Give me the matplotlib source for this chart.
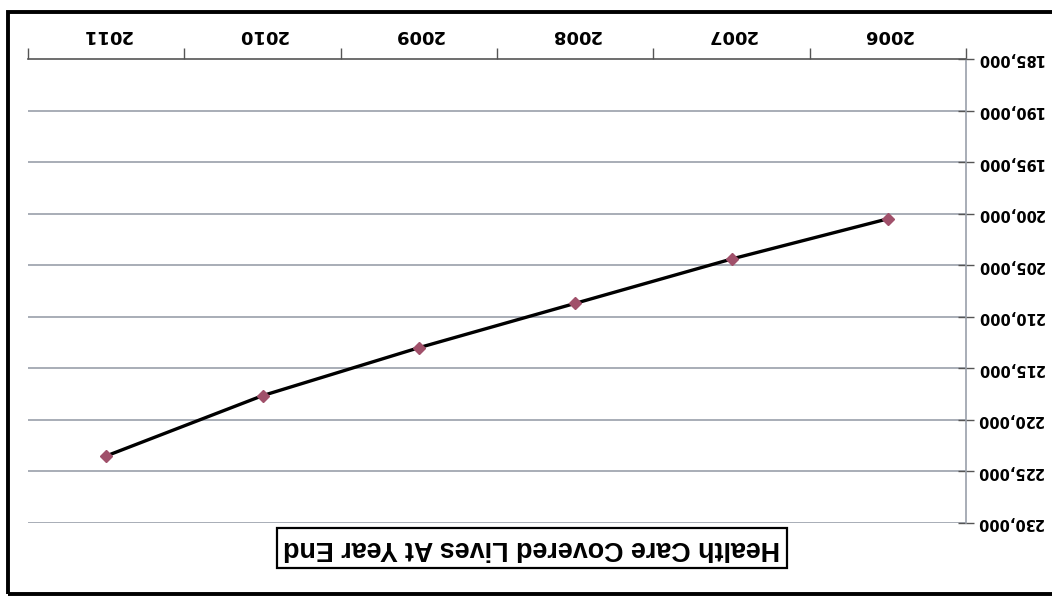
import matplotlib
matplotlib.use("Agg")
import matplotlib.pyplot as plt
from matplotlib.ticker import FixedLocator, FuncFormatter, NullFormatter
from matplotlib.patches import Rectangle

years = ["2006", "2007", "2008", "2009", "2010", "2011"]
covered_lives = [200500, 204400, 208700, 213000, 217650, 223500]
y_ticks = [185000, 190000, 195000, 200000, 205000, 210000, 215000, 220000, 225000, 230000]
title = "Health Care Covered Lives At Year End"

W, H = 1052, 597
fig = plt.figure(figsize=(W / 100, H / 100), dpi=100)
fig.patch.set_facecolor("white")

# axes rectangle in pixels (left, top, right, bottom)
L, T, R, B = 28, 59, 966, 523
ax = fig.add_axes([L / W, 1 - B / H, (R - L) / W, (B - T) / H])

x = list(range(len(years)))
ax.plot(x, covered_lives, color="black", lw=2.4, zorder=3)
ax.plot(x, covered_lives, ls="none", marker="D", ms=6.5, color="#a0506a",
        markeredgecolor="#a0506a", zorder=4)

# the whole chart is turned upside down
ax.set_xlim(len(years) - 0.5, -0.5)
ax.set_ylim(y_ticks[-1], y_ticks[0])

ax.yaxis.tick_right()
ax.yaxis.set_major_locator(FixedLocator(y_ticks))
ax.yaxis.set_major_formatter(FuncFormatter(lambda v, p: f"{int(v):,}"))
ax.tick_params(axis="y", direction="inout", length=11, width=1, color="#555555",
               pad=2, labelsize=10.5, labelrotation=180)
for lab in ax.get_yticklabels():
    lab.set_fontweight("bold")
    lab.set_family("DejaVu Sans")
    lab.set_verticalalignment("center")

ax.xaxis.tick_top()
ax.xaxis.set_major_locator(FixedLocator([i - 0.5 for i in range(len(years) + 1)]))
ax.xaxis.set_major_formatter(NullFormatter())
ax.xaxis.set_minor_locator(FixedLocator(x))
ax.xaxis.set_minor_formatter(FuncFormatter(lambda v, p: years[int(round(v))]))
ax.tick_params(axis="x", which="major", direction="out", length=8, width=1, color="#555555")
ax.tick_params(axis="x", which="minor", length=0, pad=11, labelsize=13, labelrotation=180)
for lab in ax.get_xticklabels(minor=True):
    lab.set_fontweight("bold")
    lab.set_family("DejaVu Sans")

for side in ("left", "bottom"):
    ax.spines[side].set_visible(False)
ax.spines["right"].set_color("#9aa0aa")
ax.spines["right"].set_linewidth(1.2)
ax.spines["top"].set_color("#555555")
ax.spines["top"].set_linewidth(1.2)

for v in y_ticks[1:]:
    ax.axhline(v, color="#9aa0aa", lw=1.2, zorder=1)

# chart title in a framed box below the plot
fig.text(532 / W, 1 - 548 / H, title, rotation=180, ha="center", va="center",
         fontsize=19.4, fontweight="bold", family="Liberation Sans",
         bbox=dict(boxstyle="square,pad=0.25", facecolor="white",
                   edgecolor="black", linewidth=1.6))

# outer chart frame
fig.add_artist(Rectangle((7.5 / W, 1 - 594 / H), 1.1, (594 - 11.5) / H,
                         transform=fig.transFigure, fill=False,
                         edgecolor="black", linewidth=2.8))

fig.savefig("out.png", dpi=100)
